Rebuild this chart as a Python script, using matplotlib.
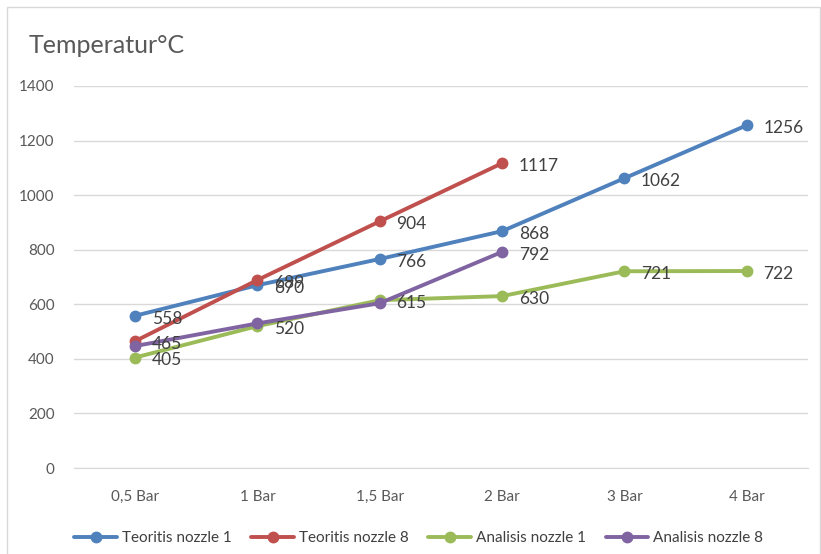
import matplotlib
matplotlib.use("Agg")
import matplotlib.pyplot as plt
from matplotlib.patches import Rectangle
import numpy as np

plt.rcParams['font.family'] = ['Lato', 'DejaVu Sans']

categories = ["0,5 Bar", "1 Bar", "1,5 Bar", "2 Bar", "3 Bar", "4 Bar"]

teoritis_n1 = [558, 670, 766, 868, 1062, 1256]
teoritis_n8 = [465, 689, 904, 1117]
analisis_n1 = [405, 520, 615, 630, 721, 722]
analisis_n8 = [447, 530, 604, 792]

# which points carry a data label (as in the original)
labels_n1 = [True] * 6
labels_n8 = [True] * 4
labels_a1 = [True] * 6
labels_a8 = [False, False, False, True]

x = np.arange(len(categories))

fig = plt.figure(figsize=(8.21, 5.54), dpi=100)
ax = fig.add_axes([0.0901, 0.1552, 0.894, 0.6896])

series = [
    ("Teoritis nozzle 1", teoritis_n1, labels_n1, "#4F81BD"),
    ("Teoritis nozzle 8", teoritis_n8, labels_n8, "#C0504D"),
    ("Analisis nozzle 1", analisis_n1, labels_a1, "#9BBB59"),
    ("Analisis nozzle 8", analisis_n8, labels_a8, "#8064A2"),
]

for name, vals, show, col in series:
    xs = x[:len(vals)]
    ax.plot(xs, vals, color=col, lw=2.8, marker='o', markersize=7.5,
            label=name, solid_capstyle='round', zorder=3)
    for xi, v, s in zip(xs, vals, show):
        if s:
            ax.annotate(str(v), (xi, v), xytext=(12, -2), textcoords='offset points',
                        ha='left', va='center', fontsize=12.5, color='#404040', zorder=4)

ax.set_xlim(-0.5, len(categories) - 0.5)
ax.set_ylim(0, 1400)
ax.set_yticks(range(0, 1401, 200))
ax.set_xticks(x)
ax.set_xticklabels(categories)
ax.grid(axis='y', color='#d9d9d9', lw=1)
ax.set_axisbelow(True)
for sp in ['top', 'right', 'left']:
    ax.spines[sp].set_visible(False)
ax.spines['bottom'].set_color('#d9d9d9')
ax.tick_params(length=0, labelsize=11, colors='#595959')
ax.tick_params(axis='x', pad=16)
ax.tick_params(axis='y', pad=14)

fig.text(0.035, 0.918, "Temperatur°C", fontsize=18, color='#595959', va='center')

fig.legend(loc='center', bbox_to_anchor=(0.51, 0.029), ncol=4, frameon=False,
           fontsize=11, handlelength=2.8, columnspacing=1.3, handletextpad=0.3,
           labelcolor='#404040')

fig.patches.append(Rectangle((0.009, -0.01), 0.99, 0.998, transform=fig.transFigure,
                             fill=False, edgecolor='#d9d9d9', lw=1))

plt.savefig("out.png", dpi=100)
